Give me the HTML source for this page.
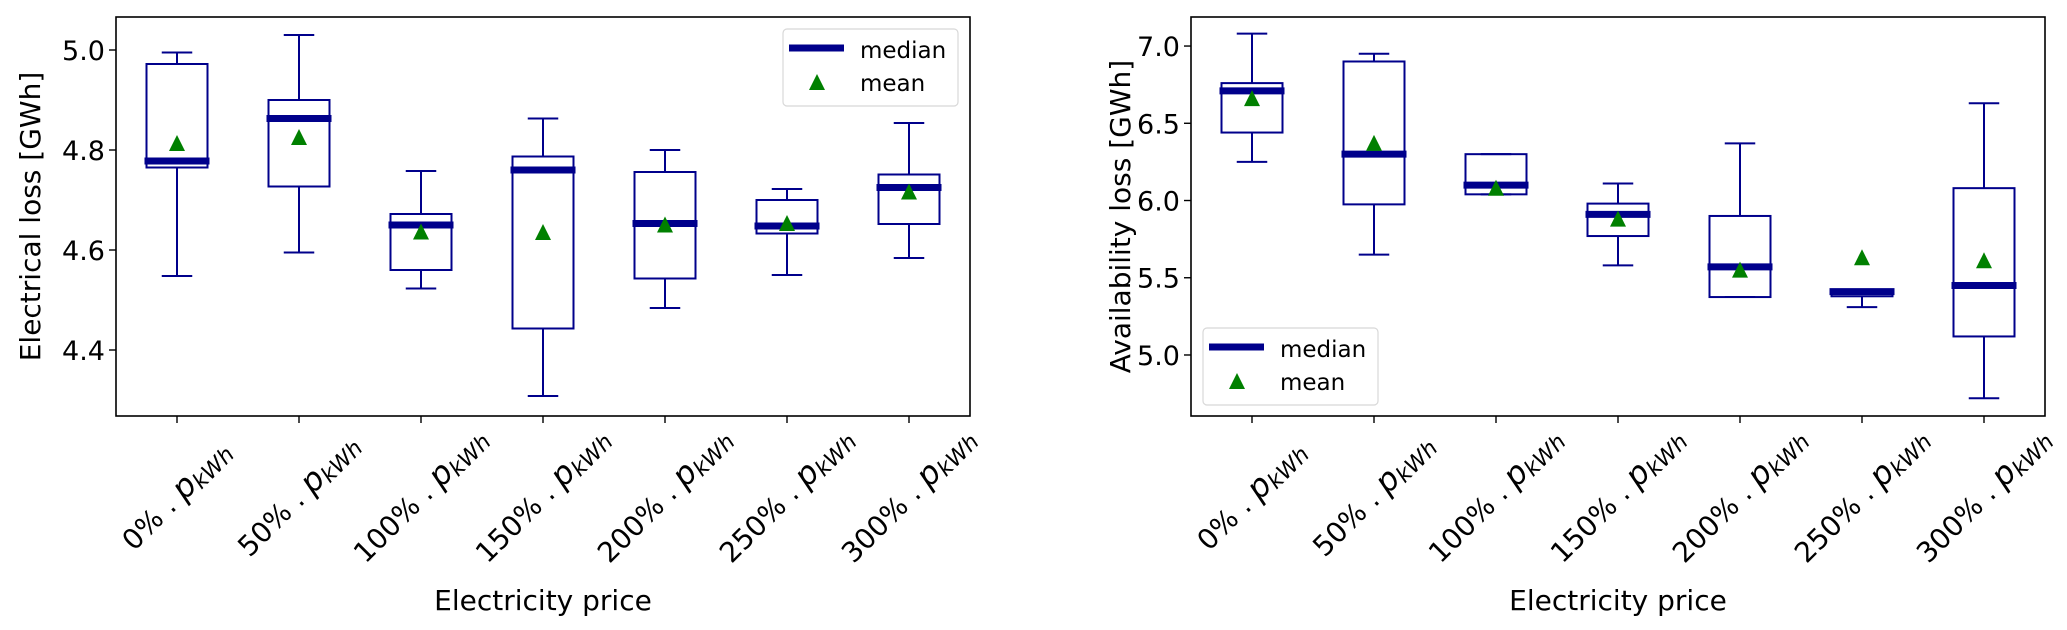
<!DOCTYPE html>
<html><head><meta charset="utf-8"><style>
body{margin:0;background:#fff}
svg{display:block;font-family:"DejaVu Sans","Liberation Sans",sans-serif}
</style></head><body>
<svg id="fig" width="2067" height="630" viewBox="0 0 2067 630" xmlns="http://www.w3.org/2000/svg"></svg>
<script>
const categories = ["0%","50%","100%","150%","200%","250%","300%"];
// left: electrical loss
const elecLow  = [4.548,4.595,4.523,4.308,4.484,4.550,4.584];
const elecQ1   = [4.765,4.727,4.560,4.443,4.543,4.633,4.652];
const elecMed  = [4.778,4.863,4.650,4.760,4.653,4.648,4.725];
const elecQ3   = [4.972,4.900,4.672,4.787,4.756,4.700,4.751];
const elecHigh = [4.995,5.030,4.758,4.863,4.800,4.722,4.854];
const elecMean = [4.810,4.822,4.633,4.632,4.647,4.650,4.713];
const elecTicks = [4.4,4.6,4.8,5.0];
// right: availability loss
const availLow  = [6.25,5.65,6.04,5.58,5.375,5.31,4.72];
const availQ1   = [6.44,5.975,6.04,5.77,5.375,5.38,5.12];
const availMed  = [6.71,6.30,6.10,5.91,5.57,5.41,5.45];
const availQ3   = [6.76,6.90,6.30,5.98,5.90,5.42,6.08];
const availHigh = [7.08,6.95,6.30,6.11,6.37,5.42,6.63];
const availMean = [6.65,6.36,6.07,5.87,5.54,5.62,5.60];
const availTicks = ["5.0","5.5","6.0","6.5","7.0"];

const NS="http://www.w3.org/2000/svg";
const svg=document.getElementById('fig');
const BLUE="#00008b", GREEN="#008000";
function mk(tag,attrs,parent){const e=document.createElementNS(NS,tag);for(const k in attrs)e.setAttribute(k,attrs[k]);(parent||svg).appendChild(e);return e;}

function panel(o){
  const g=mk('g',{});
  
  
  const x=i=>o.x0+(i+0.5)*(o.x1-o.x0)/categories.length;
  const y=v=>o.yTop+(o.vTop-v)*(o.yBot-o.yTop)/(o.vTop-o.vBot);
  const bw=(o.x1-o.x0)/categories.length*0.5;
  const fr=mk('rect',{x:o.x0,y:o.yTop,width:o.x1-o.x0,height:o.yBot-o.yTop,fill:'none',stroke:'#000','stroke-width':1.6},g);
  
  
  o.ticks.forEach(t=>{
    const v=parseFloat(t),yy=y(v);
    mk('line',{x1:o.x0-7,x2:o.x0,y1:yy,y2:yy,stroke:'#000','stroke-width':1.4},g);
    const tx=mk('text',{x:o.x0-11,y:yy+10,'font-size':27,'text-anchor':'end',fill:'#000'},g);
    
    
    tx.textContent=(+v).toFixed(1);
  });
  categories.forEach((c,i)=>{
    const cx=x(i);
    const b=mk('g',{},g);
    
    
    const s={stroke:BLUE,'stroke-width':2,fill:'none'};
    mk('line',Object.assign({x1:cx,x2:cx,y1:y(o.q3[i]),y2:y(o.hi[i])},s),b);
    mk('line',Object.assign({x1:cx,x2:cx,y1:y(o.q1[i]),y2:y(o.lo[i])},s),b);
    mk('line',Object.assign({x1:cx-bw/4,x2:cx+bw/4,y1:y(o.hi[i]),y2:y(o.hi[i])},s),b);
    mk('line',Object.assign({x1:cx-bw/4,x2:cx+bw/4,y1:y(o.lo[i]),y2:y(o.lo[i])},s),b);
    mk('rect',Object.assign({x:cx-bw/2,y:y(o.q3[i]),width:bw,height:Math.max(0.5,y(o.q1[i])-y(o.q3[i]))},s),b);
    const md=mk('line',{x1:cx-bw/2-2,x2:cx+bw/2+2,y1:y(o.med[i]),y2:y(o.med[i]),stroke:BLUE,'stroke-width':7},b);
    
    
    const my=y(o.mean[i]);
    const tri=mk('polygon',{points:`${cx},${my-10} ${cx-8},${my+6} ${cx+8},${my+6}`,fill:GREEN},b);
    
    
    mk('line',{x1:cx,x2:cx,y1:o.yBot,y2:o.yBot+7,stroke:'#000','stroke-width':1.4},g);
    const lx=cx, ly=o.yBot+80;
    const tl=mk('text',{x:lx,y:ly+9,'font-size':28,'text-anchor':'middle',fill:'#000',transform:`rotate(-45 ${lx} ${ly})`},g);
    
    
    const t1=mk('tspan',{},tl);t1.textContent=c+' . ';
    const t2=mk('tspan',{'font-style':'italic','font-size':32},tl);t2.textContent='p';
    const t3=mk('tspan',{'font-style':'italic','font-size':22,dy:4},tl);t3.textContent='kWh';
  });
  const xt=mk('text',{x:(o.x0+o.x1)/2,y:610,'font-size':28,'text-anchor':'middle',fill:'#000'},g);
  
  
  xt.textContent='Electricity price';
  const yc=(o.yTop+o.yBot)/2;
  const yt=mk('text',{x:o.ylx,y:yc+10,'font-size':28,'text-anchor':'middle',fill:'#000',transform:`rotate(-90 ${o.ylx} ${yc})`},g);
  
  
  yt.textContent=o.ylabel;
  const L=o.leg;
  const lg=mk('g',{},g);
  
  
  mk('rect',{x:L.x,y:L.y,width:175,height:77,rx:4,fill:'#fff',stroke:'#d8d8d8','stroke-width':1.2},lg);
  const e1=mk('g',{},lg);
  
  
  mk('line',{x1:L.x+6,x2:L.x+61,y1:L.y+19,y2:L.y+19,stroke:BLUE,'stroke-width':7},e1);
  const a=mk('text',{x:L.x+77,y:L.y+29,'font-size':23,fill:'#000'},e1);a.textContent='median';
  const e2=mk('g',{},lg);
  
  
  mk('polygon',{points:`${L.x+34},${L.y+45} ${L.x+26},${L.y+61} ${L.x+42},${L.y+61}`,fill:GREEN},e2);
  const bb=mk('text',{x:L.x+77,y:L.y+62,'font-size':23,fill:'#000'},e2);bb.textContent='mean';
}

panel({name:'electrical-loss-chart',x0:116,x1:970,yTop:17,yBot:416,vTop:5.066,vBot:4.268,
  lo:elecLow,q1:elecQ1,med:elecMed,q3:elecQ3,hi:elecHigh,mean:elecMean,ticks:elecTicks,
  ylabel:'Electrical loss [GWh]',ylx:30,leg:{x:783,y:29}});
panel({name:'availability-loss-chart',x0:1191,x1:2045,yTop:17,yBot:416,vTop:7.188,vBot:4.605,
  lo:availLow,q1:availQ1,med:availMed,q3:availQ3,hi:availHigh,mean:availMean,ticks:availTicks,
  ylabel:'Availability loss [GWh]',ylx:1120,leg:{x:1203,y:328}});
</script>
</body></html>
